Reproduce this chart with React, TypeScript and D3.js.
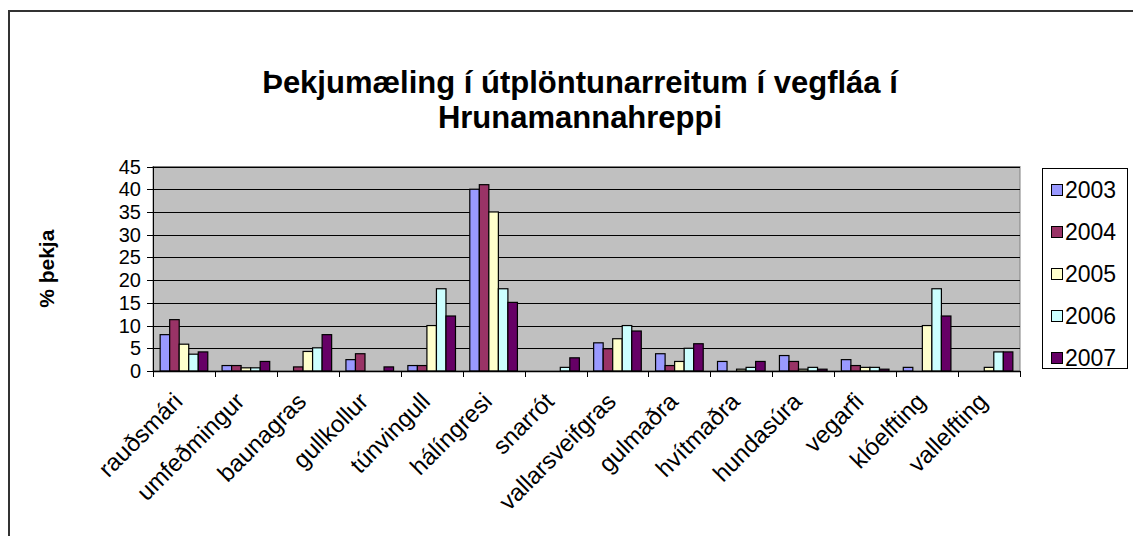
import React from 'react';
import * as d3 from 'd3';

const categories = [
  'rauðsmári', 'umfeðmingur', 'baunagras', 'gullkollur', 'túnvingull', 'hálíngresi', 'snarrót',
  'vallarsveifgras', 'gulmaðra', 'hvítmaðra', 'hundasúra', 'vegarfi', 'klóelfting', 'vallelfting',
];
const years = ['2003', '2004', '2005', '2006', '2007'];
const v2003 = [8, 1.2, 0, 2.5, 1.2, 40, 0, 6.2, 3.8, 2.1, 3.4, 2.5, 0.8, 0];
const v2004 = [11.3, 1.2, 0.9, 3.8, 1.2, 41, 0, 4.9, 1.2, 0, 2.1, 1.2, 0, 0];
const v2005 = [5.9, 0.7, 4.3, 0, 10, 35, 0, 7.1, 2.1, 0.4, 0.4, 0.8, 10, 0.8];
const v2006 = [3.7, 0.7, 5.1, 0, 18.1, 18.1, 0.8, 10, 5, 0.8, 0.8, 0.8, 18.1, 4.2];
const v2007 = [4.2, 2.1, 8, 0.9, 12.1, 15.1, 2.9, 8.8, 6, 2.1, 0.4, 0.4, 12.1, 4.2];
const yTicks = [0, 5, 10, 15, 20, 25, 30, 35, 40, 45];
const colors = ['#9999FF', '#993366', '#FFFFCC', '#CCFFFF', '#660066'];

const series = [v2003, v2004, v2005, v2006, v2007];

export default function App() {
  const W = 1133;
  const H = 536;
  const plot = { left: 153, right: 1020, top: 166.5, bottom: 371 };

  const x = d3.scaleBand<string>().domain(categories).range([plot.left, plot.right]).padding(0);
  const x1 = d3.scaleBand<string>().domain(years).range([0, x.bandwidth()]).paddingInner(0).paddingOuter(0.75);
  const y = d3.scaleLinear().domain([0, 45]).range([plot.bottom, plot.top]);

  const font = 'Arial, "Liberation Sans", sans-serif';

  return (
    <svg width={W} height={H} style={{ position: 'absolute', left: 0, top: 0, display: 'block', background: '#fff' }}
      fontFamily={font}>
      {/* chart frame, runs off the page at right and bottom */}
      <rect x={9} y={11} width={1400} height={800} fill="#fff" stroke="#333" strokeWidth={2} />

      <text x={580} textAnchor="middle" fontWeight="bold" fontSize={31} fill="#000">
        <tspan x={580} y={93}>Þekjumæling í útplöntunarreitum í vegfláa í</tspan>
        <tspan x={580} y={128}>Hrunamannahreppi</tspan>
      </text>

      {/* plot area */}
      <rect x={plot.left} y={plot.top} width={plot.right - plot.left} height={plot.bottom - plot.top}
        fill="#C0C0C0" stroke="#808080" strokeWidth={1} />

      {yTicks.filter(t => t > 0).map(t => (
        <line key={'g' + t} x1={plot.left} x2={plot.right} y1={Math.round(y(t)) + 0.5} y2={Math.round(y(t)) + 0.5}
          stroke="#000" strokeWidth={1} />
      ))}

      {categories.map((c, i) => (
        <g key={c} transform={`translate(${x(c)},0)`}>
          {years.map((yr, j) => {
            const v = series[j][i];
            if (!v) return null;
            return (
              <rect key={yr} x={x1(yr)} y={y(v)} width={x1.bandwidth()} height={y(0) - y(v)}
                fill={colors[j]} stroke="#000" strokeWidth={1.2} />
            );
          })}
        </g>
      ))}

      {/* y axis */}
      <line x1={plot.left + 0.5} x2={plot.left + 0.5} y1={plot.top} y2={plot.bottom} stroke="#000" strokeWidth={1} />
      {yTicks.map(t => (
        <g key={'t' + t}>
          <line x1={plot.left - 6} x2={plot.left} y1={Math.round(y(t)) + 0.5} y2={Math.round(y(t)) + 0.5} stroke="#000" />
          <text x={141} y={y(t)} dy="0.35em" textAnchor="end" fontSize={20} fill="#000">{t}</text>
        </g>
      ))}
      <text transform={`translate(47,${(plot.top + plot.bottom) / 2}) rotate(-90)`} textAnchor="middle" dy="0.35em"
        fontWeight="bold" fontSize={21} fill="#000">% þekja</text>

      {/* x axis */}
      <line x1={plot.left} x2={plot.right} y1={plot.bottom + 0.5} y2={plot.bottom + 0.5} stroke="#000" strokeWidth={1.5} />
      {[...categories.map(c => x(c)!), plot.right].map((px, i) => (
        <line key={'xt' + i} x1={Math.round(px) + 0.5} x2={Math.round(px) + 0.5} y1={plot.bottom} y2={plot.bottom + 6} stroke="#000" />
      ))}
      {categories.map(c => {
        const cx = x(c)! + x.bandwidth() / 2 - 6;
        return (
          <text key={'l' + c} transform={`translate(${cx},397) rotate(-45)`} textAnchor="end" dy="0.35em"
            fontSize={24} fill="#000">{c}</text>
        );
      })}

      {/* legend */}
      <rect x={1042.5} y={168.5} width={85} height={200} fill="#fff" stroke="#000" strokeWidth={1} />
      {years.map((yr, j) => {
        const cy = 190 + j * 42;
        return (
          <g key={'lg' + yr}>
            <rect x={1051.5} y={cy - 5.5} width={11} height={11} fill={colors[j]} stroke="#000" strokeWidth={1} />
            <text x={1065} y={cy} dy="0.35em" fontSize={23} fill="#000">{yr}</text>
          </g>
        );
      })}
    </svg>
  );
}
